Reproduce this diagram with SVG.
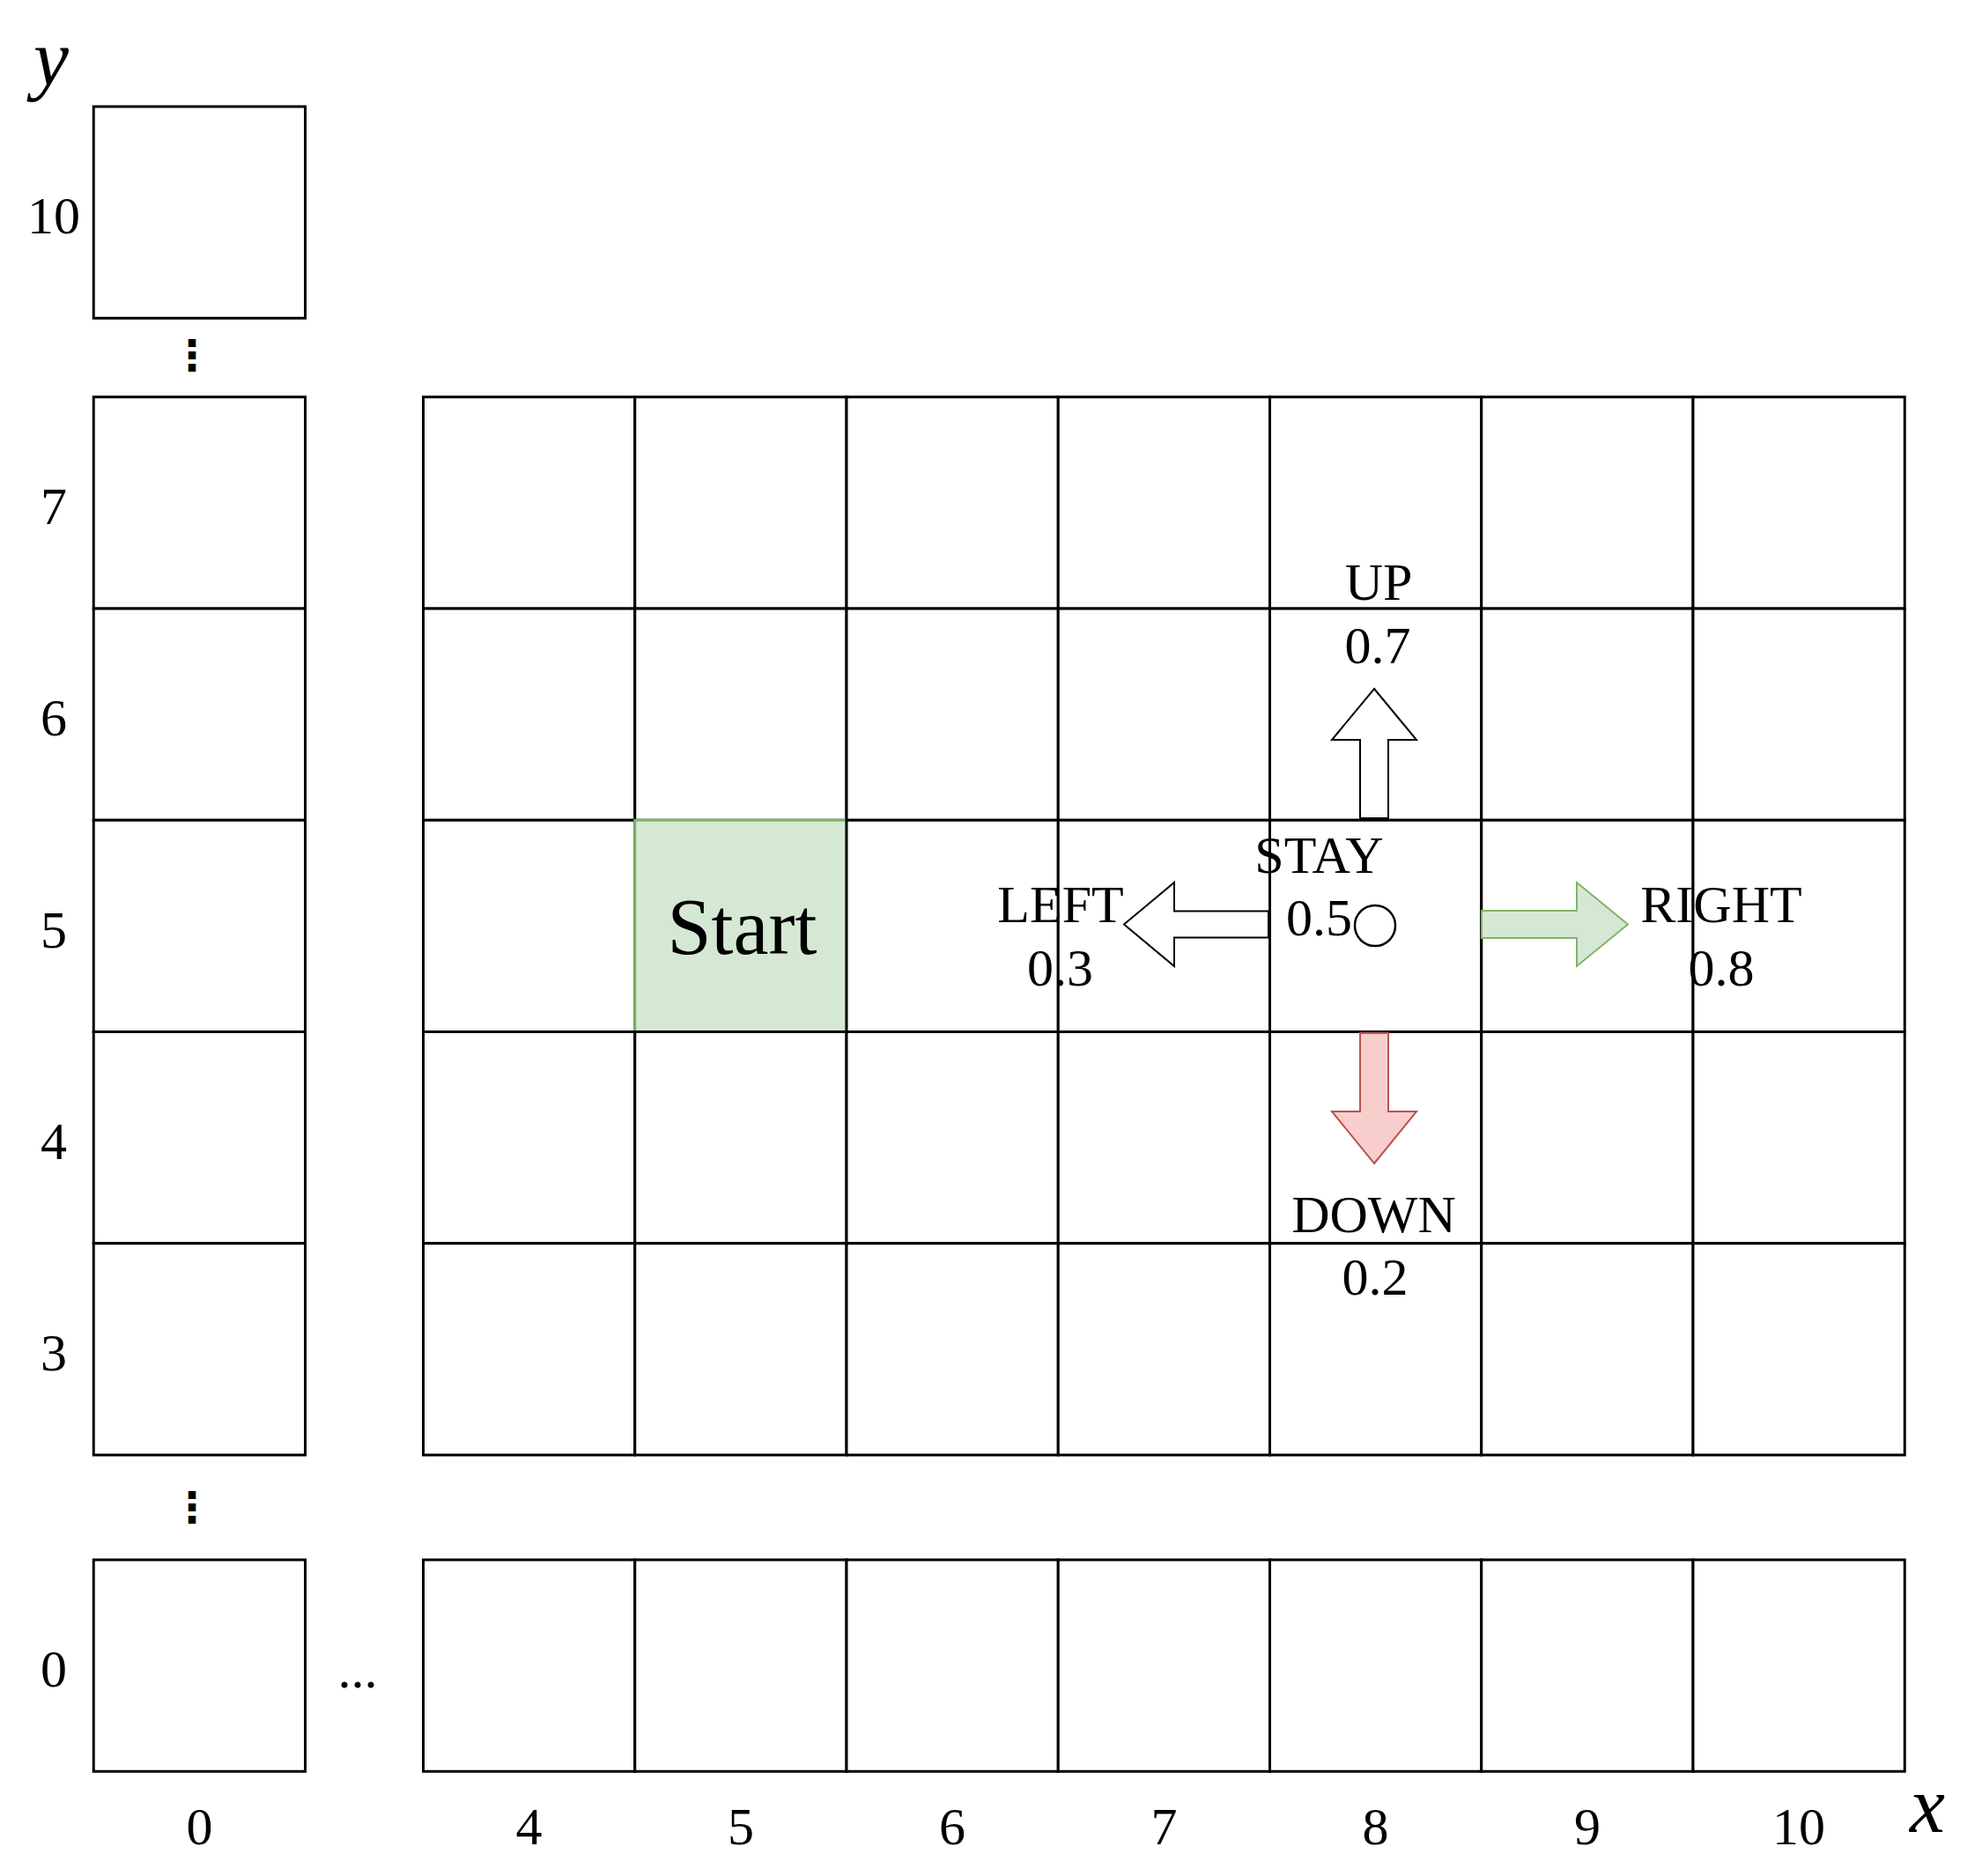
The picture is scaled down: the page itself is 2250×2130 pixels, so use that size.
<svg xmlns="http://www.w3.org/2000/svg" width="2250" height="2130" viewBox="0 0 2250 2130">
<defs>
<style>
.cell{fill:#ffffff;stroke:#000000;stroke-width:3}
.start{fill:#d5e8d4;stroke:#82b366;stroke-width:3}
.lbl{font-family:"Liberation Serif","Times New Roman",serif;font-size:60px;fill:#000000;text-anchor:middle}
.axis{font-family:"Liberation Serif","Times New Roman",serif;font-size:90px;font-style:italic;fill:#000000}
.vdots{font-family:"Noto Sans CJK SC","DejaVu Sans",sans-serif;font-size:48px;font-weight:bold;fill:#000000;text-anchor:middle}
.arrW{fill:#ffffff;stroke:#000000;stroke-width:2}
.arrG{fill:#d5e8d4;stroke:#82b366;stroke-width:2}
.arrR{fill:#f8cecc;stroke:#b85450;stroke-width:2}
</style>
</defs>
<rect x="0" y="0" width="2250" height="2130" fill="#ffffff"/>

<g id="axis-labels">
<text class="axis" x="38" y="97">y</text>
<text class="axis" x="2168" y="2080">x</text>
<text class="lbl" x="61" y="265">10</text>
<text class="lbl" x="61" y="595">7</text>
<text class="lbl" x="61" y="835">6</text>
<text class="lbl" x="61" y="1075.5">5</text>
<text class="lbl" x="61" y="1315.5">4</text>
<text class="lbl" x="61" y="1556">3</text>
<text class="lbl" x="61" y="1915">0</text>
<text class="lbl" x="226.4" y="2094">0</text>
<text class="lbl" x="600.6" y="2094">4</text>
<text class="lbl" x="840.9" y="2094">5</text>
<text class="lbl" x="1081.1" y="2094">6</text>
<text class="lbl" x="1321.4" y="2094">7</text>
<text class="lbl" x="1561.6" y="2094">8</text>
<text class="lbl" x="1801.9" y="2094">9</text>
<text class="lbl" x="2042.1" y="2094">10</text>
<text class="vdots" x="218" y="420">⋮</text>
<text class="vdots" x="218" y="1728">⋮</text>
<text class="lbl" x="406" y="1916">...</text>
</g>

<g id="column-0">
<rect class="cell" x="106.25" y="121" width="240.25" height="240.25"/>
<rect class="cell" x="106.25" y="450.75" width="240.25" height="240.25"/>
<rect class="cell" x="106.25" y="691" width="240.25" height="240.25"/>
<rect class="cell" x="106.25" y="931.25" width="240.25" height="240.25"/>
<rect class="cell" x="106.25" y="1171.5" width="240.25" height="240.25"/>
<rect class="cell" x="106.25" y="1411.75" width="240.25" height="240.25"/>
<rect class="cell" x="106.25" y="1771" width="240.25" height="240.25"/>
</g>

<g id="grid-row-7">
<rect class="cell" x="480.5" y="450.75" width="240.25" height="240.25"/>
<rect class="cell" x="720.75" y="450.75" width="240.25" height="240.25"/>
<rect class="cell" x="961" y="450.75" width="240.25" height="240.25"/>
<rect class="cell" x="1201.25" y="450.75" width="240.25" height="240.25"/>
<rect class="cell" x="1441.5" y="450.75" width="240.25" height="240.25"/>
<rect class="cell" x="1681.75" y="450.75" width="240.25" height="240.25"/>
<rect class="cell" x="1922" y="450.75" width="240.25" height="240.25"/>
</g>
<g id="grid-row-6">
<rect class="cell" x="480.5" y="691" width="240.25" height="240.25"/>
<rect class="cell" x="720.75" y="691" width="240.25" height="240.25"/>
<rect class="cell" x="961" y="691" width="240.25" height="240.25"/>
<rect class="cell" x="1201.25" y="691" width="240.25" height="240.25"/>
<rect class="cell" x="1441.5" y="691" width="240.25" height="240.25"/>
<rect class="cell" x="1681.75" y="691" width="240.25" height="240.25"/>
<rect class="cell" x="1922" y="691" width="240.25" height="240.25"/>
</g>
<g id="grid-row-5">
<rect class="cell" x="480.5" y="931.25" width="240.25" height="240.25"/>
<g id="start">
<rect class="start" x="720.75" y="931.25" width="240.25" height="240.25"/>
<text class="lbl" x="842.5" y="1083" style="font-size:90px">Start</text>
</g>
<rect class="cell" x="961" y="931.25" width="240.25" height="240.25"/>
<rect class="cell" x="1201.25" y="931.25" width="240.25" height="240.25"/>
<rect class="cell" x="1441.5" y="931.25" width="240.25" height="240.25"/>
<rect class="cell" x="1681.75" y="931.25" width="240.25" height="240.25"/>
<rect class="cell" x="1922" y="931.25" width="240.25" height="240.25"/>
</g>
<g id="grid-row-4">
<rect class="cell" x="480.5" y="1171.5" width="240.25" height="240.25"/>
<rect class="cell" x="720.75" y="1171.5" width="240.25" height="240.25"/>
<rect class="cell" x="961" y="1171.5" width="240.25" height="240.25"/>
<rect class="cell" x="1201.25" y="1171.5" width="240.25" height="240.25"/>
<rect class="cell" x="1441.5" y="1171.5" width="240.25" height="240.25"/>
<rect class="cell" x="1681.75" y="1171.5" width="240.25" height="240.25"/>
<rect class="cell" x="1922" y="1171.5" width="240.25" height="240.25"/>
</g>
<g id="grid-row-3">
<rect class="cell" x="480.5" y="1411.75" width="240.25" height="240.25"/>
<rect class="cell" x="720.75" y="1411.75" width="240.25" height="240.25"/>
<rect class="cell" x="961" y="1411.75" width="240.25" height="240.25"/>
<rect class="cell" x="1201.25" y="1411.75" width="240.25" height="240.25"/>
<rect class="cell" x="1441.5" y="1411.75" width="240.25" height="240.25"/>
<rect class="cell" x="1681.75" y="1411.75" width="240.25" height="240.25"/>
<rect class="cell" x="1922" y="1411.75" width="240.25" height="240.25"/>
</g>
<g id="grid-row-0">
<rect class="cell" x="480.5" y="1771" width="240.25" height="240.25"/>
<rect class="cell" x="720.75" y="1771" width="240.25" height="240.25"/>
<rect class="cell" x="961" y="1771" width="240.25" height="240.25"/>
<rect class="cell" x="1201.25" y="1771" width="240.25" height="240.25"/>
<rect class="cell" x="1441.5" y="1771" width="240.25" height="240.25"/>
<rect class="cell" x="1681.75" y="1771" width="240.25" height="240.25"/>
<rect class="cell" x="1922" y="1771" width="240.25" height="240.25"/>
</g>

<g id="agent">
<circle cx="1561" cy="1051" r="23" fill="#ffffff" stroke="#000000" stroke-width="2.5"/>
</g>

<g id="connectors">
<g id="arrow-up">
<polygon class="arrW" points="1560,782 1608,840 1576,840 1576,929 1544,929 1544,840 1512,840"/>
</g>
<g id="arrow-left">
<polygon class="arrW" points="1276,1049.5 1333,1002 1333,1034.5 1440,1034.5 1440,1064.5 1333,1064.5 1333,1097"/>
</g>
<g id="arrow-right">
<polygon class="arrG" points="1848,1049.5 1790,1002 1790,1034 1682,1034 1682,1065 1790,1065 1790,1097"/>
</g>
<g id="arrow-down">
<polygon class="arrR" points="1560,1321 1608,1262 1576,1262 1576,1173 1544,1173 1544,1262 1512,1262"/>
</g>
</g>

<g id="label-up">
<text class="lbl" x="1565" y="681">UP</text>
<text class="lbl" x="1564" y="753">0.7</text>
</g>
<g id="label-stay">
<text class="lbl" x="1497.5" y="991">STAY</text>
<text class="lbl" x="1497.5" y="1062">0.5</text>
</g>
<g id="label-left">
<text class="lbl" x="1204" y="1047">LEFT</text>
<text class="lbl" x="1203.5" y="1119">0.3</text>
</g>
<g id="label-right">
<text class="lbl" x="1954" y="1047">RIGHT</text>
<text class="lbl" x="1954" y="1118.5">0.8</text>
</g>
<g id="label-down">
<text class="lbl" x="1559.5" y="1398.5">DOWN</text>
<text class="lbl" x="1561" y="1470">0.2</text>
</g>
</svg>
